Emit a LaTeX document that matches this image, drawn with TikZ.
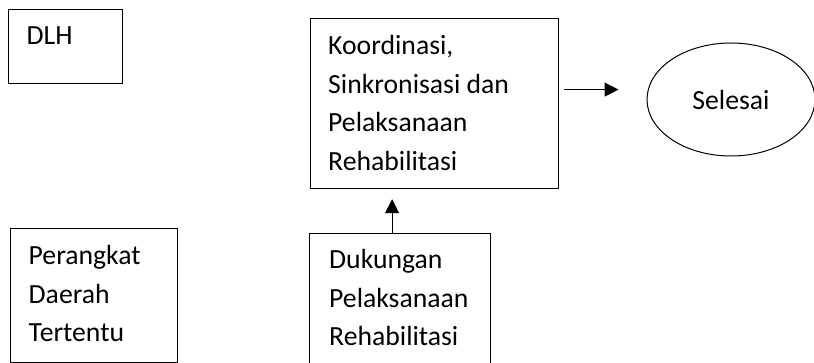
\documentclass[tikz,border=0pt]{standalone}
\usepackage{fontspec}
\setmainfont{Carlito}
\usetikzlibrary{arrows.meta, shapes.geometric, positioning}

\begin{document}
\begin{tikzpicture}[x=1pt, y=-1pt,
            box/.style={draw, line width=1.2pt, anchor=north west, inner sep=0pt},
            txt/.style={anchor=north west, inner sep=0pt, align=left, font=\fontsize{27.7}{38.5}\selectfont},
            arr/.style={-{Triangle[length=14pt, width=14pt]}, line width=1pt}]
            \useasboundingbox (0,0) rectangle (814,363);
            \node[box, minimum width=114pt, minimum height=74pt] (dlh) at (8,9) {};
            \node[box, minimum width=167pt, minimum height=134pt] (pd) at (10,228) {};
            \node[box, minimum width=248pt, minimum height=170pt] (koord) at (310,18) {};
            \node[box, minimum width=181pt, minimum height=150pt] (duk) at (309,233) {};
            \node[draw, ellipse, line width=1pt, minimum width=168pt, minimum height=113pt,
                font=\fontsize{27.7}{38.5}\selectfont] (sel) at (731,99.5) {Selesai};
            \node[txt] at ([shift={(18.5,18)}]dlh.north west) {DLH};
            \node[txt] at ([shift={(18.5,17.5)}]pd.north west) {Perangkat\\Daerah\\Tertentu};
            \node[txt] at ([shift={(18,17.5)}]koord.north west) {Koordinasi,\\Sinkronisasi dan\\Pelaksanaan\\Rehabilitasi};
            \node[txt] at ([shift={(20,16.5)}]duk.north west) {Dukungan\\Pelaksanaan\\Rehabilitasi};
            \draw[arr, shorten >=10pt] ([xshift=-8pt]duk.north) -- ([xshift=-8pt]duk.north |- koord.south);
            \draw[arr, shorten <=5pt, shorten >=28pt] ([yshift=14pt]koord.east) -- ([yshift=14pt]koord.east -| sel.west);
        \end{tikzpicture}
\end{document}
